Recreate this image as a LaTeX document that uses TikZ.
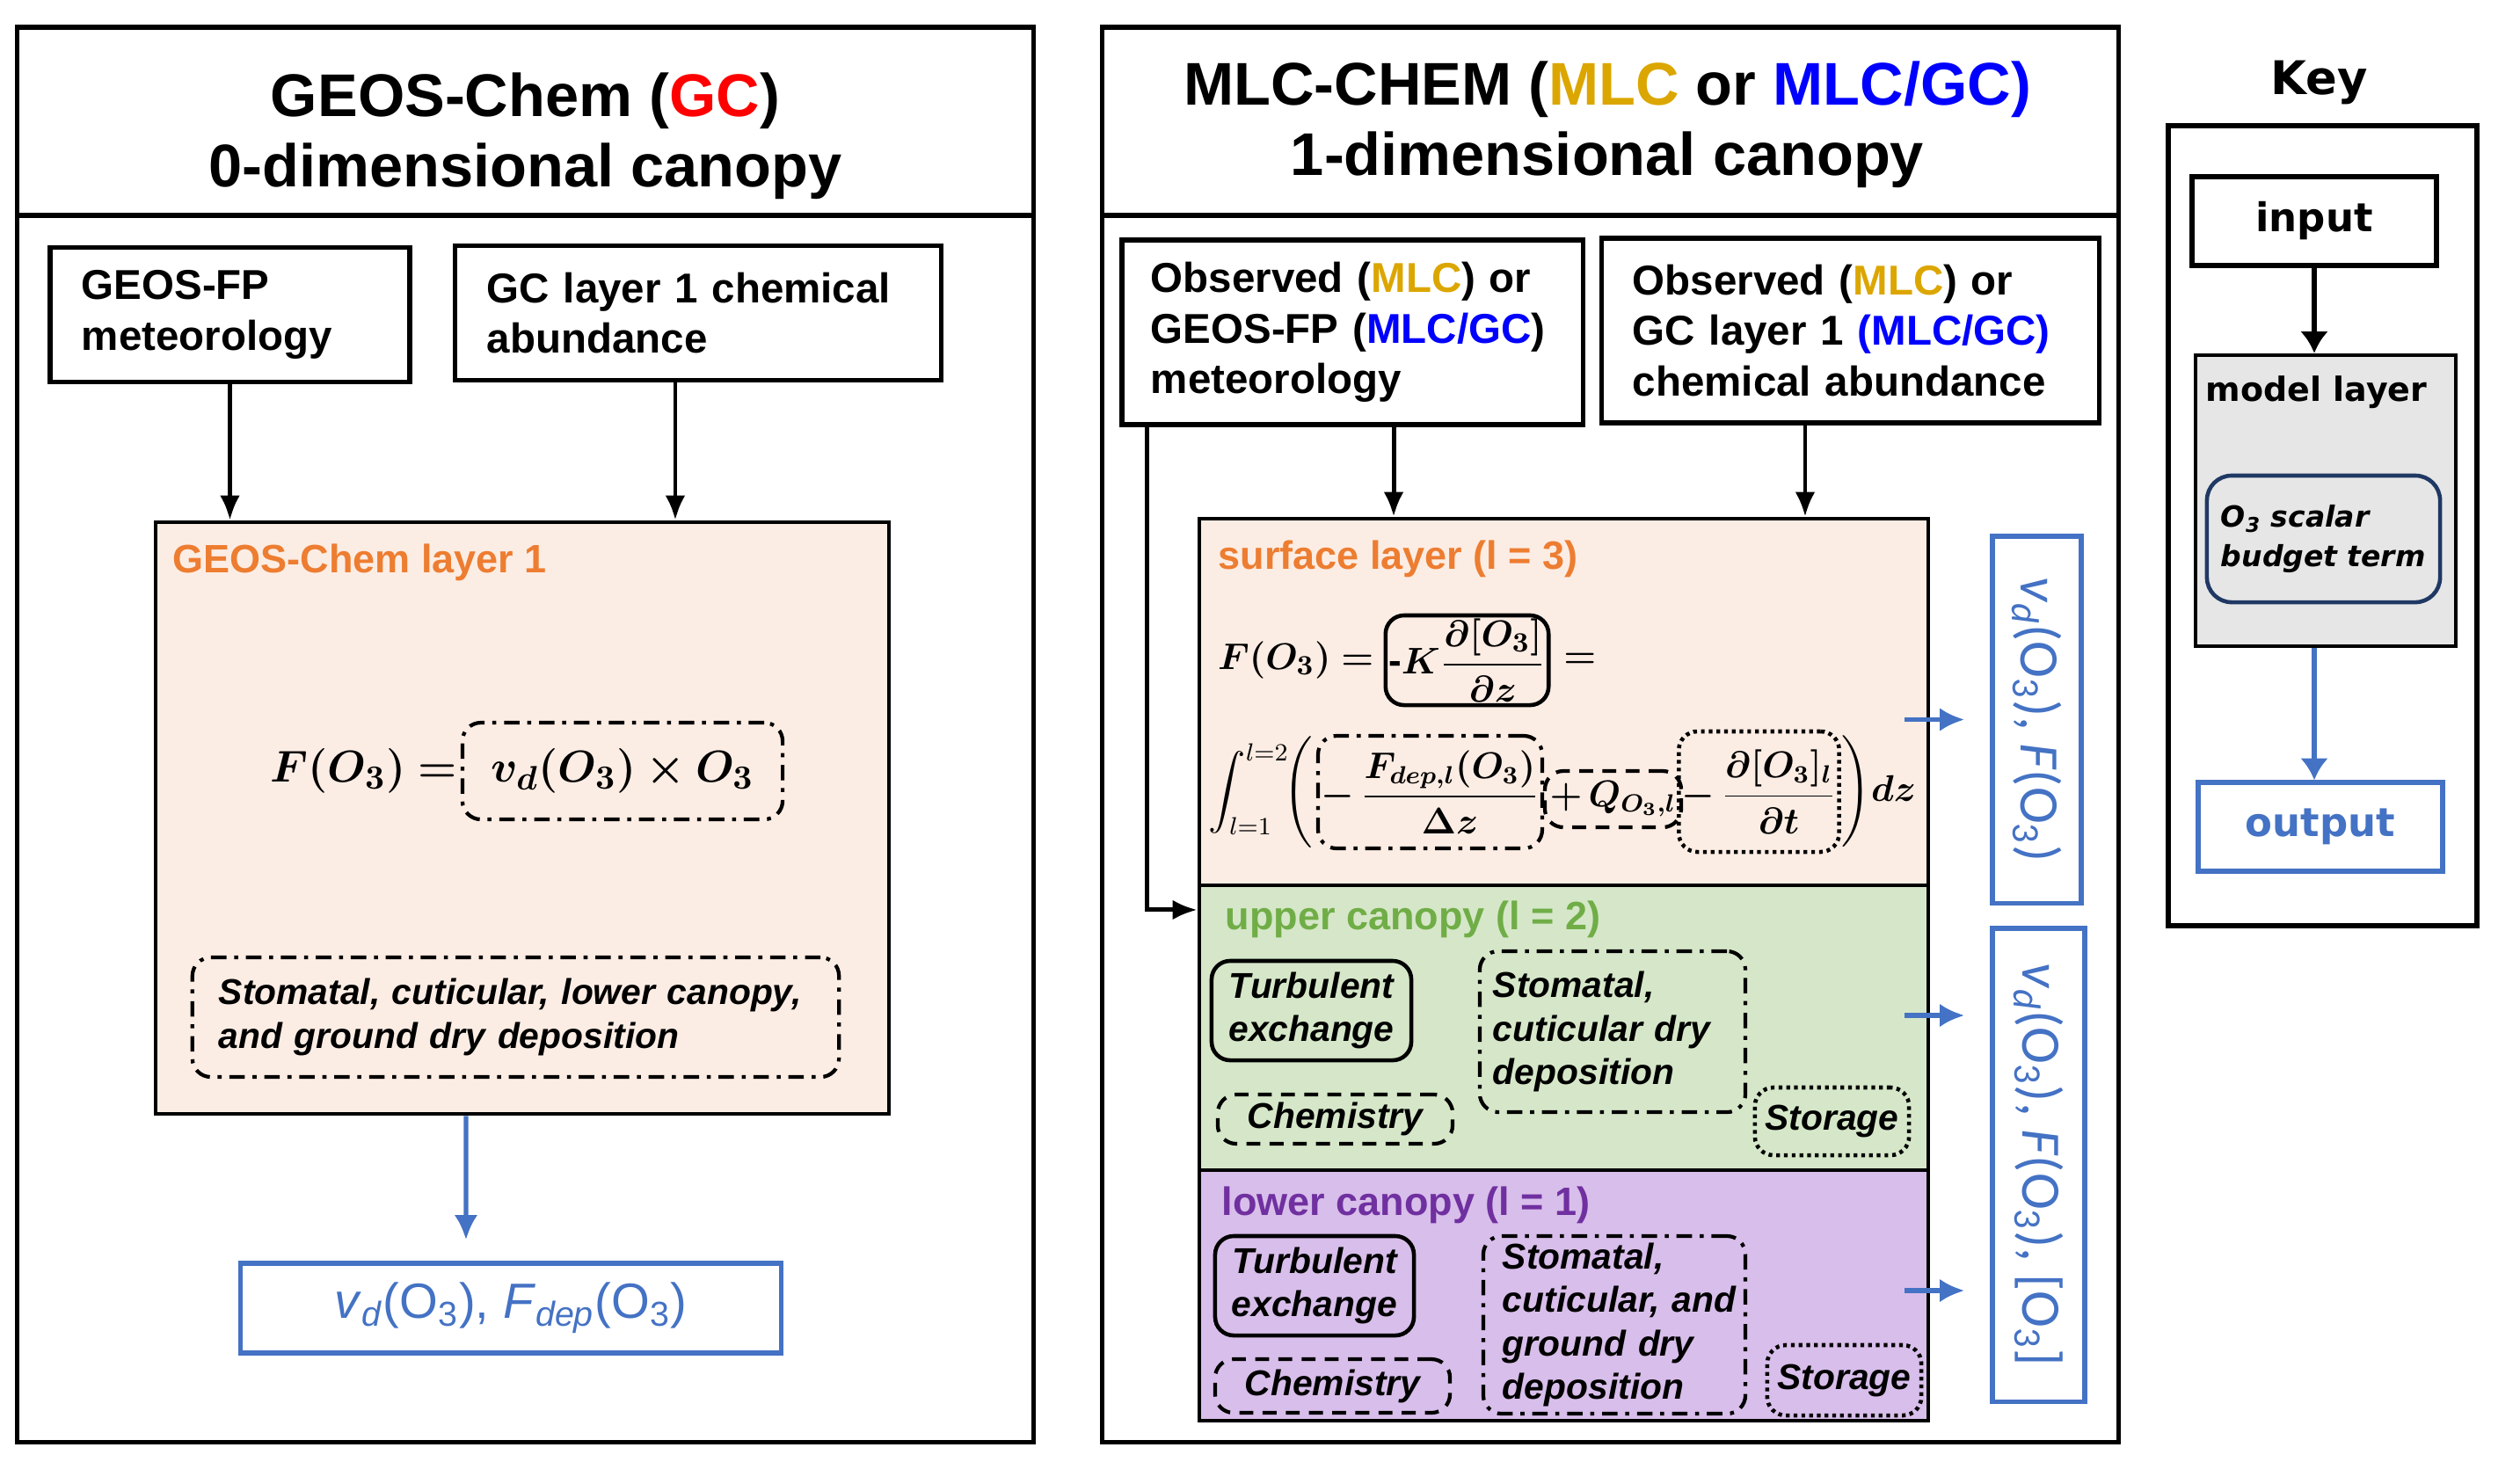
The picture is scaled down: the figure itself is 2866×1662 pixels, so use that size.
\documentclass[tikz,border=0pt]{standalone}
\usepackage{amsmath,bm}
\usepackage{fontspec}
\setmainfont{Liberation Sans}
\newfontfamily\keyfont{DejaVu Sans}
\newfontfamily\calfont{Carlito}
\usepackage{tikz}
\usetikzlibrary{arrows.meta,positioning}
\definecolor{gcred}{HTML}{FF0000}
\definecolor{mlcgold}{HTML}{DCA600}
\definecolor{mlcblue}{HTML}{0000FF}
\definecolor{outblue}{HTML}{4472C4}
\definecolor{surforange}{HTML}{ED7D31}
\definecolor{surffill}{HTML}{FCEDE4}
\definecolor{uppgreen}{HTML}{70AD47}
\definecolor{uppfill}{HTML}{D5E7C8}
\definecolor{lowpurple}{HTML}{7030A0}
\definecolor{lowfill}{HTML}{D8BEEA}
\definecolor{keygray}{HTML}{E6E6E6}
\definecolor{keynavy}{HTML}{1F3864}
\newcommand\fnthead{\fontsize{19.5}{22.8}\selectfont\bfseries}
\newcommand\fntinput{\fontsize{13.5}{16.4}\selectfont\bfseries}
\newcommand\fntlayer{\fontsize{12.8}{15}\selectfont\bfseries}
\newcommand\fntterm{\fontsize{11.6}{14}\selectfont\bfseries\itshape}
\newcommand\fnteq{\fontsize{15}{18}\selectfont}
\newcommand\fntsurf{\fontsize{12.5}{15}\selectfont}
\newcommand\fntbudget{\fontsize{11.5}{14}\selectfont}
\newcommand\fntout{\fontsize{16}{19}\selectfont}
\newcommand\fntvout{\calfont\fontsize{18}{21}\selectfont}
\newcommand\fntkeyhead{\keyfont\bfseries\fontsize{15}{18}\selectfont}
\newcommand\fntkeyin{\keyfont\bfseries\fontsize{12.8}{15}\selectfont}
\newcommand\fntkeylabel{\keyfont\bfseries\fontsize{10.8}{13}\selectfont}
\newcommand\fntkeyterm{\keyfont\bfseries\itshape\fontsize{9.4}{13}\selectfont}

\begin{document}
\begin{tikzpicture}[x=0.01cm,y=-0.01cm,>={Latex[length=8pt,width=6.5pt]},
panel/.style={draw,line width=1.6pt,inner sep=0pt},
inbox/.style={draw,line width=1.5pt,inner xsep=0.36cm,inner ysep=0pt,align=left,font=\fntinput},
layer/.style={draw,line width=1.2pt,inner sep=0pt},
layername/.style={anchor=west,inner sep=0pt,font=\fntlayer},
ddbox/.style={draw,rounded corners=6pt,line width=1.2pt,inner ysep=0pt,
  dash pattern=on 5pt off 2.5pt on 1.3pt off 2.5pt},
dashbox/.style={draw,rounded corners=6pt,line width=1.2pt,inner ysep=0pt,dash pattern=on 4.5pt off 3pt},
dotbox/.style={draw,rounded corners=6pt,line width=1.3pt,inner ysep=0pt,dash pattern=on 1.2pt off 1.3pt},
turbbox/.style={draw,rounded corners=6pt,line width=1.3pt,inner sep=2pt,align=center,font=\fntterm},
outbox/.style={draw=outblue,line width=1.5pt,text=outblue,inner sep=0pt},
inarrow/.style={->,line width=1.4pt},
outarrow/.style={-{Latex[length=8pt,width=7.5pt]},line width=1.5pt,outblue}]
\useasboundingbox (0,0) rectangle (2866,1662);

% GEOS-Chem panel
\node[panel,minimum width=11.55cm,minimum height=2.14cm] (gchead) at (597.5,138) {};
\node[panel,minimum width=11.55cm,minimum height=13.95cm] (gcbody) at (597.5,942.5) {};
\node[font=\fnthead,align=center] (gctitle) at (597.5,155) {GEOS-Chem (\textcolor{gcred}{GC})\\0-dimensional canopy};
\node[inbox,text width=3.37cm,minimum height=1.53cm] (gcmet) at (261.5,358) {GEOS-FP\\meteorology};
\node[inbox,text width=4.80cm,minimum height=1.53cm] (gcchem) at (794,356) {GC layer 1 chemical\\abundance};
\node[layer,fill=surffill,minimum width=8.34cm,minimum height=6.73cm] (gclayer) at (594,930.5) {};
\node[layername,text=surforange] (gcname) at (196,640) {GEOS-Chem layer 1};
\node[ddbox,minimum width=3.64cm,minimum height=1.10cm,font=\fnteq] (gcvd) at (708,877) {$\bm{v_d(O_3)\times O_3}$};
\node[font=\fnteq,left=1pt of gcvd,inner sep=0pt] (gcflux) {$\bm{F(O_3)=}$};
\node[ddbox,text width=6.75cm,inner xsep=0.30cm,minimum height=1.36cm,align=left,font=\fntterm] (gcdep) at (586.5,1157) {Stomatal, cuticular, lower canopy,\\and ground dry deposition};
\node[outbox,minimum width=6.14cm,minimum height=1.02cm,font=\fntout] (gcout) at (581,1488)
  {\textit{v}\textsubscript{\textit{d}}(O\textsubscript{3}), \textit{F}\textsubscript{\textit{dep}}(O\textsubscript{3})};
\draw[inarrow] (gcmet.south) -- (gcmet.south |- gclayer.north);
\draw[inarrow] ([xshift=-0.26cm]gcchem.south) -- ([xshift=-0.26cm]gcchem.south |- gclayer.north);
\draw[outarrow,shorten >=0.24cm] ([xshift=-0.64cm]gclayer.south) -- ([xshift=-0.51cm]gcout.north);

% MLC-CHEM panel
\node[panel,minimum width=11.55cm,minimum height=2.14cm] (mlchead) at (1831.5,138) {};
\node[panel,minimum width=11.55cm,minimum height=13.95cm] (mlcbody) at (1831.5,942.5) {};
\node[font=\fnthead,align=center] (mlctitle) at (1828,142) {MLC-CHEM (\textcolor{mlcgold}{MLC} or \textcolor{mlcblue}{MLC/GC)}\\1-dimensional canopy};
\node[inbox,text width=4.58cm,inner xsep=0.33cm,minimum height=2.10cm] (mlcmet) at (1538,378)
  {Observed (\textcolor{mlcgold}{MLC}) or\\GEOS-FP (\textcolor{mlcblue}{MLC/GC})\\meteorology};
\node[inbox,text width=4.95cm,inner xsep=0.35cm,minimum height=2.10cm] (mlcchem) at (2104.5,376)
  {Observed (\textcolor{mlcgold}{MLC}) or\\GC layer 1 \textcolor{mlcblue}{(MLC/GC)}\\chemical abundance};
\node[layer,fill=surffill,minimum width=8.29cm,minimum height=4.17cm] (surf) at (1778.5,798.5) {};
\node[layer,fill=uppfill,minimum width=8.29cm,minimum height=3.24cm] (upper) at (1778.5,1169) {};
\node[layer,fill=lowfill,minimum width=8.29cm,minimum height=2.85cm] (lower) at (1778.5,1473.5) {};
\node[layername,text=surforange] (surfname) at (1385,636) {surface layer (l = 3)};
\node[layername,text=uppgreen] (uppername) at (1393,1046) {upper canopy (l = 2)};
\node[layername,text=lowpurple] (lowername) at (1389,1371) {lower canopy (l = 1)};

% surface layer budget
\node[draw,rounded corners=6pt,line width=1.3pt,inner sep=1pt,minimum width=1.57cm,minimum height=0.98cm,font=\fntsurf] (surfk) at (1668.5,751)
  {$\text{\bfseries -}\bm{K\dfrac{\partial[O_3]}{\partial z}}$};
\node[font=\fntsurf,left=3pt of surfk,inner sep=0pt] (surfflux) {$\bm{F(O_3)=}$};
\node[font=\fntsurf,right=4pt of surfk,inner sep=0pt] (surfeq) {$\bm{=}$};
\node[ddbox,minimum width=2.49cm,minimum height=1.28cm,inner xsep=1pt,font=\fntbudget] (surfdep) at (1626.5,901) {$\bm{-\,\dfrac{F_{dep,l}(O_3)}{\Delta z}}$};
\node[dashbox,minimum width=1.55cm,minimum height=0.64cm,inner xsep=1pt,font=\fntbudget] (surfq) at (1834.5,909) {$\bm{+\,Q_{O_3,l}}$};
\node[dotbox,minimum width=1.77cm,minimum height=1.37cm,inner xsep=1pt,font=\fntbudget] (surfdt) at (2000.5,900.5) {$\bm{-\,\dfrac{\partial[O_3]_l}{\partial t}}$};
\node[font=\fntbudget,left=1pt of surfdep,inner sep=0pt] (surfint)
  {$\displaystyle\int_{l=1}^{l=2}\!\!\Bigg($};
\node[font=\fntbudget,right=0pt of surfdt,inner sep=0pt] (surfdz)
  {$\Bigg)\bm{dz}$};

% upper canopy
\node[turbbox,minimum width=2.27cm,minimum height=1.13cm] (upturb) at (1491.5,1149.5) {Turbulent\\exchange};
\node[dashbox,minimum width=2.67cm,minimum height=0.56cm,font=\fntterm] (upchem) at (1518.5,1273) {Chemistry};
\node[ddbox,text width=2.72cm,inner xsep=0.15cm,minimum height=1.83cm,align=left,font=\fntterm] (updep) at (1834,1173.5) {Stomatal,\\cuticular dry\\deposition};
\node[dotbox,minimum width=1.75cm,minimum height=0.77cm,font=\fntterm] (upstor) at (2083.5,1275.5) {Storage};

% lower canopy
\node[turbbox,minimum width=2.26cm,minimum height=1.13cm] (lowturb) at (1495,1462.5) {Turbulent\\exchange};
\node[dashbox,minimum width=2.67cm,minimum height=0.61cm,font=\fntterm] (lowchem) at (1515.5,1576.5) {Chemistry};
\node[ddbox,text width=2.80cm,inner xsep=0.09cm,minimum height=2.02cm,align=left,font=\fntterm] (lowdep) at (1836,1507) {\hspace*{0.13cm}Stomatal,\\\hspace*{0.13cm}cuticular, and\\\hspace*{0.13cm}ground dry\\\hspace*{0.13cm}deposition};
\node[dotbox,minimum width=1.73cm,minimum height=0.80cm,font=\fntterm] (lowstor) at (2097.5,1570) {Storage};

% outputs
\node[outbox,rotate=-90,minimum width=4.17cm,minimum height=1.01cm,font=\fntvout] (surfout) at (2316.5,818.5)
  {\textit{v}\textsubscript{\textit{d}}(O\textsubscript{3}), \textit{F}(O\textsubscript{3})};
\node[outbox,rotate=-90,minimum width=5.38cm,minimum height=1.05cm,font=\fntvout] (canout) at (2318.5,1325)
  {\textit{v}\textsubscript{\textit{d}}(O\textsubscript{3}), \textit{F}(O\textsubscript{3}), [O\textsubscript{3}]};

\draw[inarrow] ([xshift=0.47cm]mlcmet.south) -- ([xshift=0.47cm]mlcmet.south |- surf.north);
\draw[inarrow] ([xshift=-0.515cm]mlcchem.south) -- ([xshift=-0.515cm]mlcchem.south |- surf.north);
\draw[inarrow] ([xshift=-2.33cm]mlcmet.south) |- ([yshift=1.34cm]upper.west);
\draw[outarrow] ([xshift=-0.29cm]surf.east |- surfout.south) -- ([xshift=-0.29cm]surfout.south);
\draw[outarrow] ([xshift=-0.29cm,yshift=0.14cm]upper.east) -- ([xshift=-0.29cm,yshift=0.14cm]upper.east -| canout.south);
\draw[outarrow] ([xshift=-0.29cm,yshift=0.055cm]lower.east) -- ([xshift=-0.29cm,yshift=0.055cm]lower.east -| canout.south);

% key
\node[font=\fntkeyhead] (keyname) at (2638,94) {Key};
\node[panel,minimum width=3.51cm,minimum height=9.10cm] (keyframe) at (2641.5,598) {};
\node[draw,line width=1.6pt,minimum width=2.78cm,minimum height=1.01cm,inner sep=0pt,font=\fntkeyin] (keyin) at (2632,251.5) {input};
\node[layer,fill=keygray,minimum width=2.96cm,minimum height=3.31cm] (keymodel) at (2645,569.5) {};
\node[anchor=west,inner sep=0pt,font=\fntkeylabel] (keymodelname) at (2508,446) {model layer};
\node[draw=keynavy,rounded corners=8pt,line width=1.3pt,text width=2.49cm,inner xsep=0.08cm,inner ysep=0pt,minimum height=1.44cm,align=left,font=\fntkeyterm] (keyterm) at (2642.5,613)
  {\hspace*{0.08cm}O\textsubscript{3} scalar\\\hspace*{0.08cm}budget term};
\node[outbox,minimum width=2.78cm,minimum height=1.01cm,font=\fntkeyin] (keyout) at (2639,940.5) {output};
\draw[->,>={Latex[length=7pt,width=9pt]},line width=1.5pt] (keyin.south) -- (keyin.south |- keymodel.north);
\draw[outarrow,-{Latex[length=7pt,width=9pt]}] (keyin.south |- keymodel.south) -- (keyin.south |- keyout.north);
\end{tikzpicture}
\end{document}
